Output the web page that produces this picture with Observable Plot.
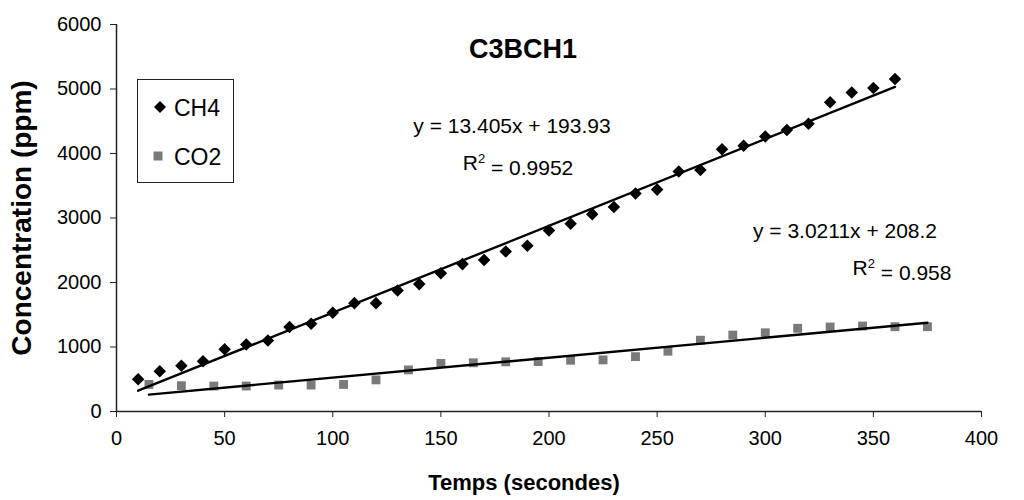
<!DOCTYPE html>
<html><head><meta charset="utf-8">
<script src="https://cdn.jsdelivr.net/npm/d3@7"></script>
<script src="https://cdn.jsdelivr.net/npm/@observablehq/plot@0.6"></script>
<style>body{margin:0;background:#fff} svg{display:block}</style>
</head><body><div id="chart"></div>
<script>
const ch4Time = [10,20,30,40,50,60,70,80,90,100,110,120,130,140,150,160,170,180,190,200,210,220,230,240,250,260,270,280,290,300,310,320,330,340,350,360];
const ch4Conc = [500,625,710,780,965,1040,1100,1310,1360,1530,1680,1680,1875,1975,2145,2285,2350,2480,2570,2805,2910,3060,3170,3380,3440,3720,3745,4065,4120,4265,4365,4460,4795,4945,5015,5155];
const co2Time = [15,30,45,60,75,90,105,120,135,150,165,180,195,210,225,240,255,270,285,300,315,330,345,360,375];
const co2Conc = [420,400,395,395,410,410,420,490,645,745,755,770,775,795,800,850,935,1105,1185,1220,1290,1310,1325,1315,1315];
const xTicks = [0,50,100,150,200,250,300,350,400];
const yTicks = [0,1000,2000,3000,4000,5000,6000];
const chartTitle = "C3BCH1";
const xLabel = "Temps (secondes)";
const yLabel = "Concentration (ppm)";
const seriesNames = ["CH4","CO2"];
const equations = ["y = 13.405x + 193.93","y = 3.0211x + 208.2"];
const r2Values = ["0.9952","0.958"];

const ch4 = ch4Time.map((t,i)=>({t, c: ch4Conc[i]}));
const co2 = co2Time.map((t,i)=>({t, c: co2Conc[i]}));
const font = "Arial, 'Liberation Sans', sans-serif";

const chart = Plot.plot({
  width: 1024, height: 500,
  marginLeft: 116, marginRight: 43, marginTop: 24, marginBottom: 89,
  style: {fontFamily: font, fontSize: "20px", color: "#000", background: "#fff"},
  x: {domain: [0,400], ticks: xTicks},
  y: {domain: [0,6000], ticks: yTicks},
  marks: [
    Plot.axisX({ticks: xTicks, tickSize: 6, tickPadding: 13, label: null, stroke: "#222", fontSize: 20, tickFormat: d => String(d)}),
    Plot.axisY({ticks: yTicks, tickSize: 6, tickPadding: 9, label: null, stroke: "#222", fontSize: 20, tickFormat: d => String(d)}),
    Plot.ruleX([0], {stroke: "#222", strokeWidth: 1.5}),
    Plot.ruleY([0], {stroke: "#222", strokeWidth: 1.5}),
    Plot.dot(co2, {x: "t", y: "c", symbol: "square", r: 5, fill: "#7a7a7a"}),
    Plot.dot(ch4, {x: "t", y: "c", symbol: "square", rotate: 45, r: 5, fill: "#000"}),
    Plot.linearRegressionY(ch4, {x: "t", y: "c", stroke: "#000", strokeWidth: 2.4, ci: 0}),
    Plot.linearRegressionY(co2, {x: "t", y: "c", stroke: "#000", strokeWidth: 2.4, ci: 0}),
    Plot.text([chartTitle], {frameAnchor: "top", dx: -26, dy: 14, fontWeight: "bold", fontSize: 27}),
    Plot.text([xLabel], {frameAnchor: "bottom", dx: -25, dy: 78, fontWeight: "bold", fontSize: 22}),
    Plot.text([yLabel], {frameAnchor: "left", textAnchor: "middle", dx: -94, dy: 0, rotate: -90, fontWeight: "bold", fontSize: 28, letterSpacing: "2px"})
  ]
});
document.getElementById("chart").appendChild(chart);

const svg = d3.select(chart);
// legend
const lg = svg.append("g").attr("font-family", font).attr("font-size", 23).attr("text-anchor", "start");
lg.append("rect").attr("x", 137.5).attr("y", 79.5).attr("width", 96).attr("height", 103)
  .attr("fill", "#fff").attr("stroke", "#222").attr("stroke-width", 1);
lg.append("path").attr("transform", "translate(160,107) rotate(45)")
  .attr("d", d3.symbol(d3.symbolSquare, 72)()).attr("fill", "#000");
lg.append("path").attr("transform", "translate(158,156)")
  .attr("d", d3.symbol(d3.symbolSquare, 81)()).attr("fill", "#7a7a7a");
lg.append("text").attr("x", 174).attr("y", 108).attr("dy", "0.35em").text(seriesNames[0]);
lg.append("text").attr("x", 174).attr("y", 157).attr("dy", "0.35em").text(seriesNames[1]);

// trendline equations
function eq(cx, cy, cx2, cy2, eqText, r2) {
  const g = svg.append("g").attr("font-family", font).attr("font-size", 21).attr("text-anchor", "middle");
  g.append("text").attr("x", cx).attr("y", cy).attr("dy", "0.35em").text(eqText);
  const t = g.append("text").attr("x", cx2).attr("y", cy2).attr("dy", "0.35em");
  t.append("tspan").text("R");
  t.append("tspan").attr("font-size", 13).attr("dy", "-0.6em").text("2");
  t.append("tspan").attr("dy", "0.6em").text(" = " + r2);
}
eq(512, 126, 518, 163, equations[0], r2Values[0]);
eq(845, 231, 902, 268, equations[1], r2Values[1]);
</script>
</body></html>
